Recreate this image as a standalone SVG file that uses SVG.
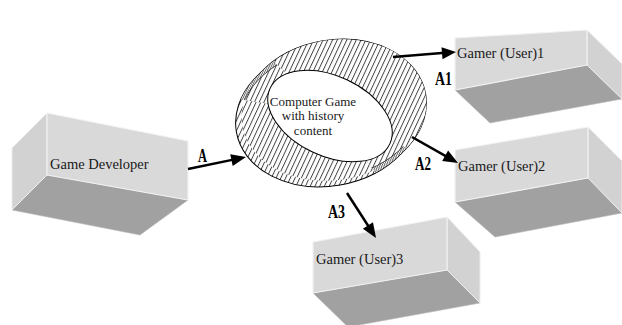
<svg xmlns="http://www.w3.org/2000/svg" width="622" height="325" viewBox="0 0 622 325">
<defs>
<pattern id="hatch" patternUnits="userSpaceOnUse" width="4.3" height="10" patternTransform="rotate(35)">
<rect width="4.3" height="10" fill="#fff"/>
<line x1="0.5" y1="0" x2="0.5" y2="10" stroke="#000" stroke-width="0.75"/>
</pattern>
<pattern id="dense" patternUnits="userSpaceOnUse" width="1.8" height="10" patternTransform="rotate(35)">
<rect width="1.8" height="10" fill="#fff"/>
<line x1="0.4" y1="0" x2="0.4" y2="10" stroke="#000" stroke-width="0.6"/>
</pattern>
<clipPath id="ulw"><polygon points="330,113 158,87 222,15"/></clipPath>
<clipPath id="lrw"><polygon points="330,113 414,223 470,177"/></clipPath>
</defs>
<style>
.front{fill:#d9d9d9;stroke:#f2f2f2;stroke-width:1.2;stroke-linejoin:round}
.side{fill:#d2d2d2;stroke:#ececec;stroke-width:1}
.bottom{fill:#a1a1a1;stroke:#b8b8b8;stroke-width:0.6}
.lbl{font-family:"Liberation Serif","Times New Roman",serif;font-size:14.5px;fill:#1a1a1a}
.inner{font-family:"Liberation Serif","Times New Roman",serif;font-size:13px;fill:#1a1a1a;text-anchor:middle}
.al{font-family:"Liberation Serif","Times New Roman",serif;font-size:19px;font-weight:bold;fill:#000}
.arr{stroke:#000;stroke-width:2.5;fill:none}
.head{fill:#000}
.ell{stroke:#000;stroke-width:1}
.thin{stroke:#000;stroke-width:0.6}
</style>
<rect width="622" height="325" fill="#fff"/>

<g id="game-developer">
<polygon class="bottom" points="47,175 188,200 140,235 12,210"/>
<polygon class="side" points="47,113 47,175 12,210 12,148"/>
<polygon class="front" points="47,113 188,141 188,200 47,175"/>
<text class="lbl" x="50" y="169">Game Developer</text>
</g>

<g id="gamer1">
<polygon class="bottom" points="455,90 587,65 622,99 490,123"/>
<polygon class="side" points="587,30 622,64 622,99 587,65"/>
<polygon class="front" points="455,38 587,30 587,65 455,90"/>
<text class="lbl" x="457" y="58">Gamer (User)1</text>
</g>

<g id="gamer2">
<polygon class="bottom" points="455,202 588,178 622,213 495,237"/>
<polygon class="side" points="588,127 622,161 622,213 588,178"/>
<polygon class="front" points="455,150 588,127 588,178 455,202"/>
<text class="lbl" x="458" y="171">Gamer (User)2</text>
</g>

<g id="gamer3">
<polygon class="bottom" points="313,293 447,270 480,303 348,327"/>
<polygon class="side" points="447,217 480,252 480,303 447,270"/>
<polygon class="front" points="313,242 447,217 447,270 313,293"/>
<text class="lbl" x="316" y="264">Gamer (User)3</text>
</g>

<g id="computer-game">
<ellipse class="ell" cx="334" cy="110" rx="93" ry="70" transform="rotate(-10 334 110)" fill="url(#hatch)"/>
<ellipse class="ell" cx="328" cy="116" rx="93" ry="70" transform="rotate(-10 328 116)" fill="url(#hatch)"/>
<ellipse cx="334" cy="110" rx="93" ry="70" transform="rotate(-10 334 110)" fill="url(#hatch)"/>
<g clip-path="url(#ulw)">
<ellipse cx="328" cy="116" rx="93" ry="70" transform="rotate(-10 328 116)" fill="url(#dense)"/>
<ellipse cx="334" cy="110" rx="93" ry="70" transform="rotate(-10 334 110)" fill="url(#dense)"/>
<ellipse class="thin" cx="331" cy="118" rx="93" ry="70" transform="rotate(-10 331 118)" fill="url(#hatch)"/>
</g>
<g clip-path="url(#lrw)">
<ellipse cx="328" cy="116" rx="93" ry="70" transform="rotate(-10 328 116)" fill="url(#dense)"/>
<ellipse cx="334" cy="110" rx="93" ry="70" transform="rotate(-10 334 110)" fill="url(#dense)"/>
<ellipse class="thin" cx="331" cy="108" rx="93" ry="70" transform="rotate(-10 331 108)" fill="url(#hatch)"/>
</g>
<ellipse class="ell" cx="330" cy="116" rx="66" ry="40" transform="rotate(25 330 116)" fill="#fff"/>
<text class="inner" x="313" y="106">Computer Game</text>
<text class="inner" x="313" y="120">with history</text>
<text class="inner" x="313" y="135">content</text>
</g>

<g id="connectors">
<line class="arr" x1="188" y1="169" x2="238.2" y2="158.6"/>
<polygon class="head" points="246,157 230.2,154.3 232.7,166.1"/>
<line class="arr" x1="393" y1="57" x2="448" y2="52.6"/>
<polygon class="head" points="456,52 441.5,47.2 442.5,59.2"/>
<line class="arr" x1="412" y1="137" x2="451" y2="159.1"/>
<polygon class="head" points="458,163 448.1,150.4 442.2,160.9"/>
<line class="arr" x1="347" y1="193" x2="371.7" y2="231.3"/>
<polygon class="head" points="376,238 373.0,222.3 362.9,228.8"/>
<text class="al" x="198" y="162" textLength="9" lengthAdjust="spacingAndGlyphs">A</text>
<text class="al" x="435" y="85" textLength="17" lengthAdjust="spacingAndGlyphs">A1</text>
<text class="al" x="415" y="170" textLength="16" lengthAdjust="spacingAndGlyphs">A2</text>
<text class="al" x="328" y="218" textLength="17" lengthAdjust="spacingAndGlyphs">A3</text>
</g>
</svg>
